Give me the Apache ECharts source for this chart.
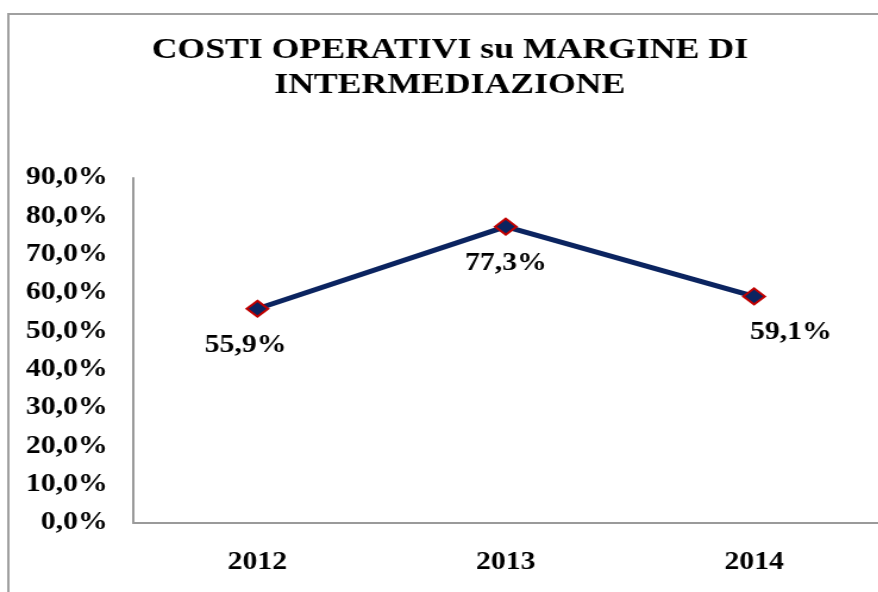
<!DOCTYPE html>
<html>
<head>
<meta charset="utf-8">
<script src="https://cdn.jsdelivr.net/npm/echarts@6/dist/echarts.min.js"></script>
<style>
  html, body { margin: 0; padding: 0; background: #fff; overflow: hidden; }
  /* the reference is a horizontally stretched chart picture */
  #chart { width: 738px; height: 592px; transform: scaleX(1.19); transform-origin: 0 0; }
</style>
</head>
<body>
<div id="chart"></div>
<script>
    // values
    const years = ['2012', '2013', '2014'];
    const costRatio = [55.9, 77.3, 59.1];
    const labelShift = [[-10, 0], [0, 0], [31, 0]];

    const serif = '"Liberation Serif", "Times New Roman", serif';

    function pct(v) {
        return v.toFixed(1).replace('.', ',') + '%';
    }

    const chart = echarts.init(document.getElementById('chart'));

    chart.setOption({
        backgroundColor: '#fff',
        animation: false,
        title: {
            text: 'COSTI OPERATIVI su MARGINE DI\nINTERMEDIAZIONE',
            left: 373,
            textAlign: 'center',
            top: 28,
            textStyle: {
                fontFamily: serif,
                fontWeight: 'bold',
                fontSize: 30,
                lineHeight: 35,
                color: '#000'
            }
        },
        graphic: [{
            type: 'rect',
            shape: { x: 7, y: 14, width: 800, height: 600 },
            style: { fill: 'none', stroke: '#a0a0a0', lineWidth: 2 },
            silent: true
        }],
        grid: { left: 112, right: -5.5, top: 178, bottom: 69 },
        xAxis: {
            type: 'category',
            data: years,
            boundaryGap: true,
            axisLine: { lineStyle: { color: '#9a9a9a', width: 2 } },
            axisTick: { show: false },
            axisLabel: {
                margin: 27,
                fontFamily: serif,
                fontWeight: 'bold',
                fontSize: 25,
                color: '#000'
            }
        },
        yAxis: {
            type: 'value',
            min: 0,
            max: 90,
            interval: 10,
            axisLine: { show: true, lineStyle: { color: '#9a9a9a', width: 2 } },
            axisTick: { show: false },
            splitLine: { show: false },
            axisLabel: {
                margin: 21.5,
                fontFamily: serif,
                fontWeight: 'bold',
                fontSize: 25,
                color: '#000',
                formatter: pct
            }
        },
        series: [{
            type: 'line',
            data: costRatio.map(function (v, i) {
                return { value: v, label: { offset: labelShift[i] } };
            }),
            symbol: 'diamond',
            symbolSize: [18, 16],
            itemStyle: { color: '#0b2460', borderColor: '#c00000', borderWidth: 2 },
            lineStyle: { color: '#0b2460', width: 5 },
            label: {
                show: true,
                position: 'bottom',
                distance: 15,
                fontFamily: serif,
                fontWeight: 'bold',
                fontSize: 25,
                color: '#000',
                formatter: function (p) {
                    return pct(p.value);
                }
            }
        }]
    });
</script>
</body>
</html>
